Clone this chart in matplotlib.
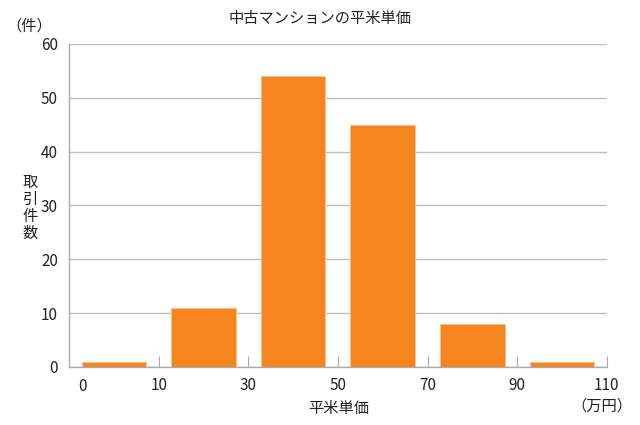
import matplotlib
matplotlib.use("Agg")
import matplotlib.pyplot as plt

plt.rcParams['font.family'] = ['Noto Sans CJK JP', 'DejaVu Sans']

# bins of unit price (万円) and number of transactions
edges = [0, 10, 30, 50, 70, 90, 110]
counts = [1, 11, 54, 45, 8, 1]
y_ticks = [0, 10, 20, 30, 40, 50, 60]

fig = plt.figure(figsize=(6.4, 4.25), dpi=100)
ax = fig.add_axes([0.108, 0.1365, 0.84, 0.76])

pos = list(range(len(counts)))
ax.bar(pos, counts, width=0.72, color='#F5861F', edgecolor='#FBC08A', linewidth=0.6, zorder=3)

ax.set_xlim(-0.5, len(counts) - 0.5)
ax.set_ylim(0, 60)
ax.set_yticks(y_ticks)
ax.yaxis.grid(True, color='#BDBDBD', linewidth=1.0, zorder=0)
ax.tick_params(axis='y', length=0, labelsize=11, pad=8, colors='#222222')

# boundary ticks
bounds = [p + 0.5 for p in pos]
ax.set_xticks(bounds)
ax.set_xticklabels([str(e) for e in edges[1:]])
ax.tick_params(axis='x', direction='in', length=8, labelsize=11, pad=7, labelcolor='#222222', color='#AAAAAA')
ax.text(-0.35, -0.035, str(edges[0]), transform=ax.get_xaxis_transform(), ha='center', va='top', fontsize=11, color='#222222')

for side in ['top', 'right']:
    ax.spines[side].set_visible(False)
for side in ['left', 'bottom']:
    ax.spines[side].set_color('#AAAAAA')
    ax.spines[side].set_linewidth(1.0)

fig.text(0.5, 0.957, '中古マンションの平米単価', ha='center', va='center', fontsize=11, color='#222222')
fig.text(0.045, 0.938, '（件）', ha='center', va='center', fontsize=11, color='#222222')
fig.text(0.047, 0.51, '取\n引\n件\n数', ha='center', va='center', fontsize=11, linespacing=1.0, color='#222222')
fig.text(0.53, 0.04, '平米単価', ha='center', va='center', fontsize=11, color='#222222')
fig.text(0.94, 0.045, '（万円）', ha='center', va='center', fontsize=11, color='#222222')

fig.savefig('out.png', dpi=100)
